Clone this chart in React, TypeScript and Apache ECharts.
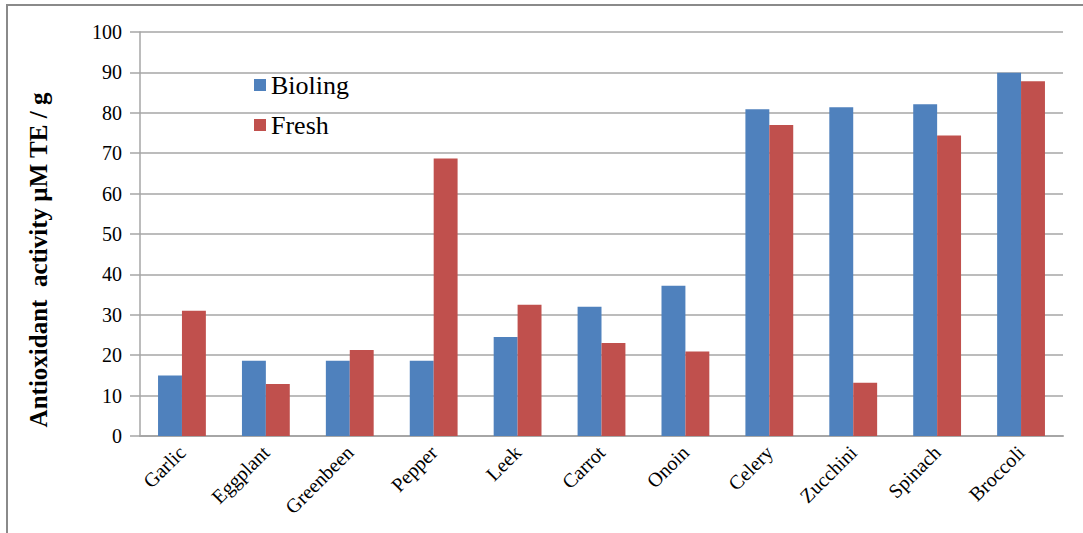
import React, { useEffect, useRef } from "react";
import * as echarts from "echarts";

const categories = [
  "Garlic",
  "Eggplant",
  "Greenbeen",
  "Pepper",
  "Leek",
  "Carrot",
  "Onoin",
  "Celery",
  "Zucchini",
  "Spinach",
  "Broccoli",
];
const boilingValues = [15, 18.6, 18.6, 18.6, 24.5, 32, 37.2, 80.9, 81.4, 82.1, 89.9];
const freshValues = [31, 12.9, 21.3, 68.7, 32.5, 23, 20.9, 77, 13.2, 74.4, 87.8];
const seriesNames = ["Bioling", "Fresh"];
const yAxisTitle = "Antioxidant  activity \u00b5M TE / g";

const SERIF = "'Liberation Serif', 'Times New Roman', serif";

export default function App() {
  const ref = useRef<HTMLDivElement>(null);

  useEffect(() => {
    document.body.style.margin = "0";
    if (!ref.current) return;
    const chart = echarts.init(ref.current, undefined, { renderer: "svg" });
    chart.setOption({
      animation: false,
      backgroundColor: "#ffffff",
      graphic: [
        {
          type: "polyline",
          shape: { points: [[7, 540], [7, 5], [1090, 5]] },
          style: { stroke: "#8a8a8a", lineWidth: 2, fill: "none" },
          silent: true,
        },
        {
          type: "text",
          x: 38,
          y: 260,
          rotation: Math.PI / 2,
          style: {
            text: yAxisTitle,
            fontFamily: SERIF,
            fontSize: 25,
            fontWeight: "bold",
            fill: "#000",
            align: "center",
            verticalAlign: "middle",
          },
          silent: true,
        },
      ],
      legend: {
        orient: "vertical",
        left: 249,
        top: 67,
        itemWidth: 12,
        itemHeight: 12,
        itemGap: 14,
        icon: "rect",
        data: seriesNames,
        textStyle: { fontFamily: SERIF, fontSize: 26, color: "#000" },
      },
      grid: { left: 140, right: 20, top: 32, bottom: 97, containLabel: false },
      xAxis: {
        type: "category",
        data: categories,
        axisLine: { show: true, lineStyle: { color: "#a6a6a6", width: 2 } },
        axisTick: { show: false },
        axisLabel: {
          rotate: 45,
          margin: 13,
          interval: 0,
          fontFamily: SERIF,
          fontSize: 20,
          color: "#000",
        },
      },
      yAxis: {
        type: "value",
        min: 0,
        max: 100,
        interval: 10,
        axisLine: { show: true, lineStyle: { color: "#a6a6a6", width: 1.5 } },
        axisTick: { show: true, length: 10, lineStyle: { color: "#a6a6a6", width: 1.5 } },
        splitLine: { show: true, lineStyle: { color: "#a6a6a6", width: 1.5 } },
        axisLabel: {
          margin: 18,
          fontFamily: SERIF,
          fontSize: 20,
          color: "#000",
        },
      },
      series: [
        {
          name: seriesNames[0],
          type: "bar",
          data: boilingValues,
          barGap: "0%",
          barCategoryGap: "43%",
          itemStyle: { color: "#4F81BD" },
        },
        {
          name: seriesNames[1],
          type: "bar",
          data: freshValues,
          itemStyle: { color: "#C0504D" },
        },
      ],
    });
    return () => chart.dispose();
  }, []);

  return <div ref={ref} style={{ width: 1083, height: 533 }} />;
}
